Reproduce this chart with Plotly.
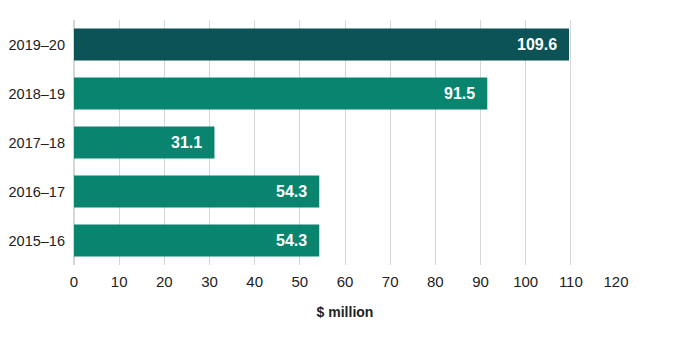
import plotly.graph_objects as go

categories = ["2015–16", "2016–17", "2017–18", "2018–19", "2019–20"]
values = [54.3, 54.3, 31.1, 91.5, 109.6]
labels = ["54.3", "54.3", "31.1", "91.5", "109.6"]
colors = ["#09846F", "#09846F", "#09846F", "#09846F", "#0B5357"]
tick_vals = list(range(0, 130, 10))

FONT = "Liberation Sans, Arial, sans-serif"

fig = go.Figure(go.Bar(
    y=categories, x=values, orientation="h",
    marker=dict(color=colors, line=dict(width=0)),
    hoverinfo="x+y",
))

for c, v, t in zip(categories, values, labels):
    fig.add_annotation(
        x=v, y=c, xref="x", yref="y", text=f"<b>{t}</b>", showarrow=False,
        xanchor="right", xshift=-10,
        font=dict(family=FONT, size=16, color="white"),
    )

fig.update_layout(
    width=689, height=338,
    margin=dict(l=74, r=73, t=20, b=73, autoexpand=False),
    paper_bgcolor="white", plot_bgcolor="white",
    bargap=0.35,
    showlegend=False,
    font=dict(family=FONT, size=14, color="#222"),
    xaxis=dict(
        range=[0, 120], tickvals=tick_vals, showgrid=True, automargin=False,
        gridcolor="#d6d6d6", gridwidth=1, zeroline=True, zerolinecolor="#d6d6d6",
        ticks="", ticklabelstandoff=6,
        title=dict(text="<b>$ million</b>", font=dict(family=FONT, size=14, color="#222"), standoff=18),
        tickfont=dict(family=FONT, size=15),
    ),
    yaxis=dict(
        showgrid=False, ticks="", ticklabelstandoff=8, automargin=False,
        tickfont=dict(family=FONT, size=14.5),
    ),
)

fig.write_html("out.html")
